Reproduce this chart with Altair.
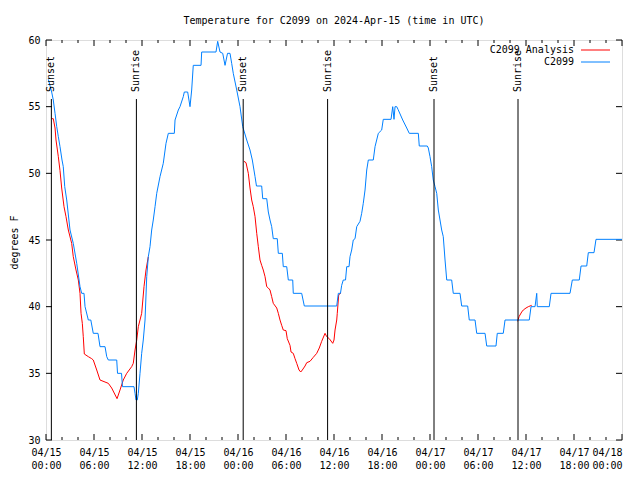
import altair as alt
import pandas as pd

FONT = "DejaVu Sans Mono"
BLUE = "#0080ff"
RED = "#ff0000"

# Observed station temperatures (hours since 2024-04-15 00:00 UTC, deg F)
blue_hours = [0.29, 0.71, 0.91, 1.13, 1.34, 1.54, 1.75, 2.0, 2.16, 2.34, 2.59, 3.0, 3.41, 3.84, 4.25, 4.46,
              4.75, 4.88, 5.29, 5.6, 5.91, 6.5, 6.75, 7.38, 7.59, 7.79, 8.84, 8.94, 9.44, 9.56, 11.0,
              11.13, 11.25, 11.41, 11.54, 11.75, 11.96, 12.16, 12.38, 12.59, 12.79, 13.0, 13.21, 13.41,
              13.63, 13.84, 14.25, 14.66, 15.0, 15.29, 16.04, 16.13, 16.54, 16.75, 17.16, 17.29, 17.71,
              18.0, 18.21, 18.41, 19.38, 19.46, 21.25, 21.46, 21.75, 22.09, 22.38, 22.69, 23.0, 23.21,
              23.41, 23.84, 24.25, 24.59, 25.09, 25.5, 25.79, 26.13, 26.31, 26.96, 27.09, 27.59, 27.79,
              28.0, 28.21, 28.41, 28.91, 29.04, 29.54, 29.66, 30.09, 30.29, 30.84, 30.91, 31.96, 32.29,
              36.34, 36.54, 36.81, 36.96, 37.16, 37.44, 37.59, 37.88, 38.0, 38.21, 38.41, 38.63, 38.84,
              39.25, 39.46, 39.66, 39.88, 40.09, 40.29, 40.91, 41.13, 41.54, 41.96, 42.16, 43.13, 43.34,
              43.5, 43.63, 43.84, 44.0, 44.59, 45.09, 45.41, 46.54, 46.66, 47.66, 47.79, 48.0, 48.21,
              48.41, 48.63, 48.84, 49.04, 49.25, 49.46, 49.66, 49.88, 50.09, 50.71, 50.91, 51.75, 51.96,
              52.71, 52.91, 53.63, 53.84, 54.88, 55.09, 56.25, 56.41, 57.16, 57.38, 60.41, 60.63, 61.13,
              61.34, 61.41, 62.91, 63.13, 65.5, 65.79, 66.66, 66.88, 67.59, 67.79, 68.5, 68.75, 72.0]
blue_temps = [57.05, 56.1, 55.5, 54.5, 53.5, 52.75, 52.0, 51.0, 50.5, 49.0, 48.0, 45.75, 44.75, 43.25, 41.5,
              41.0, 41.0, 40.0, 39.0, 39.0, 38.0, 38.0, 37.0, 37.0, 36.25, 36.0, 36.0, 35.0, 35.0, 34.0,
              34.0, 33.5, 33.0, 33.0, 33.5, 35.0, 36.5, 37.5, 39.0, 42.25, 43.75, 44.5, 45.75, 46.5, 47.5,
              48.5, 49.75, 50.75, 52.25, 53.0, 53.0, 54.0, 54.75, 55.0, 55.75, 56.1, 56.1, 55.0, 56.25,
              58.1, 58.1, 59.1, 59.1, 59.9, 59.1, 59.0, 58.1, 59.0, 59.0, 58.25, 57.5, 56.25, 55.0, 53.5,
              52.5, 51.75, 51.0, 49.75, 49.05, 49.05, 48.1, 48.1, 47.1, 46.5, 46.0, 45.1, 45.1, 44.0,
              44.0, 43.0, 43.0, 42.0, 42.0, 41.0, 41.0, 40.05, 40.05, 41.0, 41.0, 41.6, 42.0, 42.0, 43.0,
              43.0, 43.75, 44.25, 45.0, 45.1, 46.0, 46.4, 47.0, 47.75, 48.75, 50.25, 51.0, 51.0, 52.0,
              53.0, 53.25, 54.05, 54.05, 55.0, 54.05, 55.0, 55.0, 54.8, 54.0, 53.4, 53.0, 53.0, 52.05,
              52.05, 51.9, 51.25, 50.5, 49.5, 49.0, 48.5, 47.25, 46.5, 45.75, 45.25, 43.5, 42.0, 42.0,
              41.0, 41.0, 40.05, 40.05, 39.0, 39.0, 38.0, 38.0, 37.05, 37.05, 38.0, 38.0, 39.0, 39.0,
              40.0, 40.0, 41.0, 40.0, 40.0, 41.0, 41.0, 42.0, 42.0, 43.05, 43.05, 44.05, 44.05, 45.05,
              45.05]

# Analysis temperatures, three separate segments
red_hours_1 = [0.71, 0.91, 1.13, 1.25, 1.54, 1.75, 1.96, 2.25, 2.5, 2.79, 3.21, 3.41, 3.75, 4.04, 4.25,
               4.38, 4.54, 4.66, 4.79, 5.29, 5.71, 5.91, 6.34, 6.75, 7.79, 8.21, 8.88, 9.25, 9.66, 10.09,
               10.71, 10.91, 11.13, 11.34, 11.54, 11.96, 12.25, 12.5, 12.79]
red_temps_1 = [54.1, 54.1, 53.4, 52.5, 51.25, 50.2, 48.9, 47.5, 46.75, 45.75, 44.75, 43.75, 42.75, 42.0,
               41.0, 39.5, 38.75, 37.75, 36.45, 36.25, 36.1, 36.0, 35.25, 34.5, 34.25, 33.9, 33.1, 33.75,
               34.5, 35.0, 35.5, 35.75, 36.75, 37.5, 38.5, 39.5, 41.5, 42.75, 43.75]
red_hours_2 = [24.75, 25.0, 25.29, 25.5, 25.71, 25.91, 26.13, 26.34, 26.54, 26.75, 26.96, 27.16, 27.38,
               27.59, 27.79, 28.0, 28.21, 28.41, 28.84, 29.04, 29.25, 29.46, 29.66, 30.0, 30.16, 30.5,
               30.63, 30.91, 31.13, 31.34, 31.63, 31.84, 32.04, 32.38, 32.59, 33.0, 33.41, 33.84, 34.16,
               34.46, 34.88, 35.09, 35.41, 35.84, 36.0, 36.13, 36.34, 36.41, 36.59, 36.84]
red_temps_2 = [50.9, 50.8, 50.0, 48.9, 48.0, 47.5, 46.75, 45.5, 44.5, 43.5, 43.1, 42.75, 42.25, 41.5,
               41.4, 41.25, 40.75, 40.25, 39.9, 39.5, 39.0, 38.6, 38.25, 38.2, 37.6, 37.1, 36.6, 36.5,
               36.1, 35.75, 35.25, 35.1, 35.25, 35.55, 35.8, 35.9, 36.2, 36.5, 36.9, 37.4, 38.0, 37.75,
               37.6, 37.25, 37.5, 38.25, 39.0, 39.5, 40.9, 41.0]
red_hours_3 = [58.96, 59.13, 59.46, 59.66, 60.0, 60.29, 60.71]
red_temps_3 = [38.9, 39.25, 39.6, 39.75, 39.9, 40.0, 40.1]

# Sunset / sunrise markers
event_hours = [0.67, 11.3, 24.65, 35.2, 48.5, 59.0]
event_labels = ["Sunset", "Sunrise", "Sunset", "Sunrise", "Sunset", "Sunrise"]

x_major = list(range(0, 73, 6))
x_minor = [h for h in range(0, 73, 2) if h % 6 != 0]
y_major = [30, 35, 40, 45, 50, 55, 60]

legend_labels = ["C2099 Analysis", "C2099"]
legend_colors = [RED, BLUE]

W, H = 576, 400

blue_df = pd.DataFrame({"h": blue_hours, "t": blue_temps, "i": range(len(blue_hours))})
red_rows = []
for seg, (hs, ts) in enumerate([(red_hours_1, red_temps_1), (red_hours_2, red_temps_2), (red_hours_3, red_temps_3)]):
    for k, (h, t) in enumerate(zip(hs, ts)):
        red_rows.append({"h": h, "t": t, "seg": seg, "i": k})
red_df = pd.DataFrame(red_rows)
ev_df = pd.DataFrame({"h": event_hours, "label": event_labels})
xmaj_df = pd.DataFrame({"h": x_major})
xmin_df = pd.DataFrame({"h": x_minor})
ymaj_df = pd.DataFrame({"t": y_major})

xs = alt.Scale(domain=[0, 72], nice=False, zero=False)
ys = alt.Scale(domain=[30, 60], nice=False, zero=False)

label_expr = ("['04/' + (15 + floor(datum.value / 24)), "
              "(datum.value % 24 < 10 ? '0' : '') + (datum.value % 24) + ':00']")

x_enc = alt.X("h:Q", scale=xs, title=None,
              axis=alt.Axis(values=x_major, labelExpr=label_expr, ticks=False, domain=False, grid=False,
                            labelPadding=7, labelLineHeight=13, labelFont=FONT, labelFontSize=10,
                            labelColor="black", labelFlush=False, labelOverlap=False,
                            labelAlign={"condition": {"test": "datum.value >= 72", "value": "right"},
                                        "value": "center"}))
y_enc = alt.Y("t:Q", scale=ys, title="degrees F",
              axis=alt.Axis(values=y_major, ticks=False, domain=False, grid=False, labelPadding=6,
                            labelFont=FONT, labelFontSize=10, labelColor="black",
                            titleFont=FONT, titleFontSize=10, titleFontWeight="normal", titleColor="black",
                            titleAngle=270, titleX=-32, titleY=202, titleAlign="center",
                            titleBaseline="middle"))

red_line = alt.Chart(red_df).mark_line(color=RED, strokeWidth=1).encode(
    x=x_enc, y=y_enc, detail="seg:N", order="i:Q")
blue_line = alt.Chart(blue_df).mark_line(color=BLUE, strokeWidth=1).encode(
    x=x_enc, y=y_enc, order="i:Q")

ev_rules = alt.Chart(ev_df).mark_rule(color="black", strokeWidth=1).encode(
    x=x_enc, y=alt.value(59), y2=alt.value(H))
ev_text = alt.Chart(ev_df).mark_text(angle=270, align="left", baseline="middle", font=FONT,
                                     fontSize=10, color="black").encode(
    x=x_enc, y=alt.value(52), text="label:N")

tick_layers = [
    alt.Chart(xmaj_df).mark_rule(color="black").encode(x=x_enc, y=alt.value(H), y2=alt.value(H - 6)),
    alt.Chart(xmaj_df).mark_rule(color="black").encode(x=x_enc, y=alt.value(0), y2=alt.value(6)),
    alt.Chart(xmin_df).mark_rule(color="black").encode(x=x_enc, y=alt.value(H), y2=alt.value(H - 3)),
    alt.Chart(xmin_df).mark_rule(color="black").encode(x=x_enc, y=alt.value(0), y2=alt.value(3)),
    alt.Chart(ymaj_df).mark_rule(color="black").encode(y=y_enc, x=alt.value(0), x2=alt.value(6)),
    alt.Chart(ymaj_df).mark_rule(color="black").encode(y=y_enc, x=alt.value(W), x2=alt.value(W - 6)),
]

legend_layers = []
for k, (lab, col) in enumerate(zip(legend_labels, legend_colors)):
    ly = 10 + 12 * k
    ldf = pd.DataFrame({"label": [lab]})
    legend_layers.append(alt.Chart(ldf).mark_text(align="right", baseline="middle", font=FONT,
                                                  fontSize=10, color="black").encode(
        x=alt.value(528), y=alt.value(ly), text="label:N"))
    legend_layers.append(alt.Chart(ldf).mark_rule(color=col, strokeWidth=1).encode(
        x=alt.value(535), x2=alt.value(564), y=alt.value(ly)))

chart = alt.layer(
    *tick_layers, red_line, blue_line, ev_rules, ev_text, *legend_layers
).properties(
    width=W, height=H,
    title=alt.TitleParams("Temperature for C2099 on 2024-Apr-15 (time in UTC)", font=FONT, fontSize=10,
                          fontWeight="normal", color="black", anchor="middle", offset=9),
    padding={"left": 38, "top": 32, "right": 10, "bottom": 32},
    autosize=alt.AutoSizeParams(type="none"),
).configure_view(stroke="black", strokeWidth=1).configure(background="white")

chart.save("out.html", embed_options={"renderer": "svg", "actions": False})
